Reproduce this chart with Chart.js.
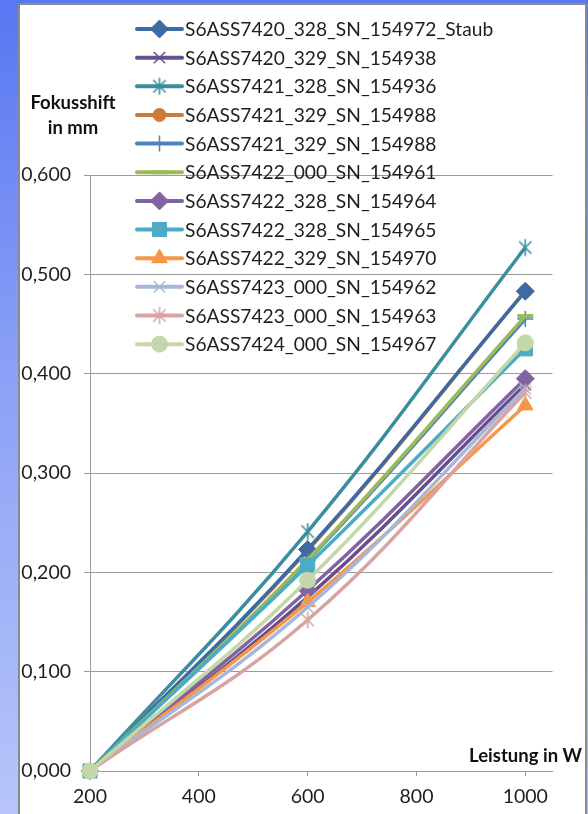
<!DOCTYPE html>
<html>
<head>
<meta charset="utf-8">
<script src="https://cdn.jsdelivr.net/npm/chart.js@4.4.0/dist/chart.umd.min.js"></script>
<style>
  html, body { margin: 0; padding: 0; width: 588px; height: 814px; overflow: hidden; }
  body { position: relative; background: linear-gradient(to bottom, #5877f2 0%, #8aa0f6 45%, #b7c5f9 100%); }
  #frame { position: absolute; left: 18px; top: 3px; width: 565px; height: 830px; background: #ffffff; border: 2px solid #8a8a8a; }
  #c { position: absolute; left: 0; top: 0; }
</style>
</head>
<body>
<div id="frame"></div>
<canvas id="c" width="588" height="814"></canvas>
<script>
// Leistung (W) on the x axis
const leistung = [200, 600, 1000];
const xTicks = [200, 400, 600, 800, 1000];
const yTicks = [0, 0.1, 0.2, 0.3, 0.4, 0.5, 0.6];

const seriesNames = [
  'S6ASS7420_328_SN_154972_Staub',
  'S6ASS7420_329_SN_154938',
  'S6ASS7421_328_SN_154936',
  'S6ASS7421_329_SN_154988',
  'S6ASS7421_329_SN_154988',
  'S6ASS7422_000_SN_154961',
  'S6ASS7422_328_SN_154964',
  'S6ASS7422_328_SN_154965',
  'S6ASS7422_329_SN_154970',
  'S6ASS7423_000_SN_154962',
  'S6ASS7423_000_SN_154963',
  'S6ASS7424_000_SN_154967'
];

// Fokusshift (mm) per series at 200 / 600 / 1000 W
const sn154972 = [0, 0.223, 0.483];
const sn154938 = [0, 0.175, 0.389];
const sn154936 = [0, 0.241, 0.527];
const sn154988a = [0, 0.222, 0.483];
const sn154988b = [0, 0.212, 0.455];
const sn154961 = [0, 0.213, 0.458];
const sn154964 = [0, 0.182, 0.395];
const sn154965 = [0, 0.207, 0.425];
const sn154970 = [0, 0.170, 0.368];
const sn154962 = [0, 0.165, 0.385];
const sn154963 = [0, 0.152, 0.381];
const sn154967 = [0, 0.192, 0.431];

const seriesValues = [sn154972, sn154938, sn154936, sn154988a, sn154988b, sn154961,
  sn154964, sn154965, sn154970, sn154962, sn154963, sn154967];

const colors = ['#3d6aa3', '#674f8c', '#3a8e9f', '#cd7a39', '#4f81bd', '#9bbb59',
  '#8064a2', '#4bacc6', '#f79646', '#a6b8da', '#d9a3a2', '#c4d7a8'];

// Six-armed asterisk marker (vertical bar plus diagonal cross)
function asteriskMarker(color) {
  const size = 20, m = size / 2, r = 8.5, d = 6.2;
  const c = document.createElement('canvas');
  c.width = size; c.height = size;
  const g = c.getContext('2d');
  g.strokeStyle = color; g.lineWidth = 1.6; g.lineCap = 'butt';
  g.beginPath();
  g.moveTo(m, m - r); g.lineTo(m, m + r);
  g.moveTo(m - d, m - d); g.lineTo(m + d, m + d);
  g.moveTo(m + d, m - d); g.lineTo(m - d, m + d);
  g.stroke();
  return c;
}

const markers = [
  { style: 'rectRot', radius: 9, bw: 1 },
  { style: 'crossRot', radius: 8, bw: 1.5 },
  { style: asteriskMarker(colors[2]), radius: 9, bw: 1 },
  { style: 'circle', radius: 6.5, bw: 1 },
  { style: 'cross', radius: 8, bw: 1.5 },
  { style: 'line', radius: 8, bw: 4 },
  { style: 'rectRot', radius: 9, bw: 1 },
  { style: 'rect', radius: 10, bw: 1 },
  { style: 'triangle', radius: 9, bw: 1 },
  { style: 'crossRot', radius: 8, bw: 1.5 },
  { style: asteriskMarker(colors[10]), radius: 9, bw: 1 },
  { style: 'circle', radius: 8, bw: 1 }
];

// paint order: later series on top; the first SN_154988 series lies beneath all others
const paintOrder = [12, 11, 10, 13, 8, 7, 6, 5, 4, 3, 2, 1];

const datasets = seriesNames.map((name, i) => ({
  label: name,
  data: leistung.map((x, k) => ({ x: x, y: seriesValues[i][k] })),
  borderColor: colors[i],
  backgroundColor: colors[i],
  borderWidth: 3.5,
  tension: 0.4,
  pointStyle: markers[i].style,
  pointRadius: markers[i].radius,
  pointBorderWidth: markers[i].bw,
  pointBackgroundColor: colors[i],
  pointBorderColor: colors[i],
  clip: false,
  order: paintOrder[i]
}));

const FONT = 'Lato, "Open Sans", sans-serif';
const gridColor = '#9a9a9a';
const textColor = '#1e1e1e';

const seriesLegend = {
  id: 'seriesLegend',
  afterDraw(chart) {
    const ctx = chart.ctx;
    const x0 = 137, x1 = 182, yFirst = 29, dy = 28.65;
    ctx.save();
    chart.data.datasets.forEach((ds, i) => {
      const y = yFirst + i * dy;
      ctx.strokeStyle = ds.borderColor;
      ctx.lineWidth = 4;
      ctx.lineCap = 'round';
      ctx.beginPath(); ctx.moveTo(x0, y); ctx.lineTo(x1, y); ctx.stroke();
      ctx.fillStyle = ds.pointBackgroundColor;
      ctx.strokeStyle = ds.pointBorderColor;
      ctx.lineWidth = ds.pointBorderWidth;
      ctx.lineCap = 'butt';
      Chart.helpers.drawPoint(ctx, {
        pointStyle: ds.pointStyle, radius: ds.pointRadius,
        borderWidth: ds.pointBorderWidth, rotation: 0
      }, (x0 + x1) / 2, y);
      ctx.fillStyle = textColor;
      ctx.font = '19.2px ' + FONT;
      ctx.textAlign = 'left';
      ctx.textBaseline = 'alphabetic';
      ctx.fillText(ds.label, 185, y + 7);
    });
    ctx.restore();
  }
};

const axisTitles = {
  id: 'axisTitles',
  afterDraw(chart) {
    const ctx = chart.ctx;
    ctx.save();
    ctx.fillStyle = '#111';
    ctx.font = 'bold 18.5px ' + FONT;
    ctx.textAlign = 'center';
    ctx.textBaseline = 'alphabetic';
    ctx.fillText('Fokusshift', 73, 109);
    ctx.fillText('in mm', 73, 134);
    ctx.textAlign = 'right';
    ctx.fillText('Leistung in W', 582, 762);
    ctx.restore();
  }
};

new Chart(document.getElementById('c'), {
  type: 'line',
  data: { datasets: datasets },
  options: {
    responsive: false,
    animation: false,
    events: [],
    layout: { padding: { left: 20, top: 175, right: 35.5, bottom: 0 } },
    plugins: { legend: { display: false }, tooltip: { enabled: false } },
    scales: {
      x: {
        type: 'linear',
        min: 200,
        max: 1050,
        afterBuildTicks: s => { s.ticks = xTicks.map(v => ({ value: v })); },
        afterFit: s => { s.height = 43; },
        grid: { drawOnChartArea: false, drawTicks: true, tickLength: 5, color: gridColor },
        border: { color: gridColor, width: 1 },
        ticks: {
          font: { family: FONT, size: 19.5 }, color: textColor, padding: 9, maxRotation: 0, autoSkip: false,
          callback: v => String(v)
        }
      },
      y: {
        type: 'linear',
        min: 0,
        max: 0.6,
        afterBuildTicks: s => { s.ticks = yTicks.map(v => ({ value: v })); },
        afterFit: s => { s.width = 70; },
        grid: { color: gridColor, tickLength: 6 },
        border: { color: gridColor, width: 1 },
        ticks: {
          font: { family: FONT, size: 19.5 }, color: textColor, padding: 13,
          callback: v => v.toFixed(3).replace('.', ',')
        }
      }
    }
  },
  plugins: [seriesLegend, axisTitles]
});
</script>
</body>
</html>
